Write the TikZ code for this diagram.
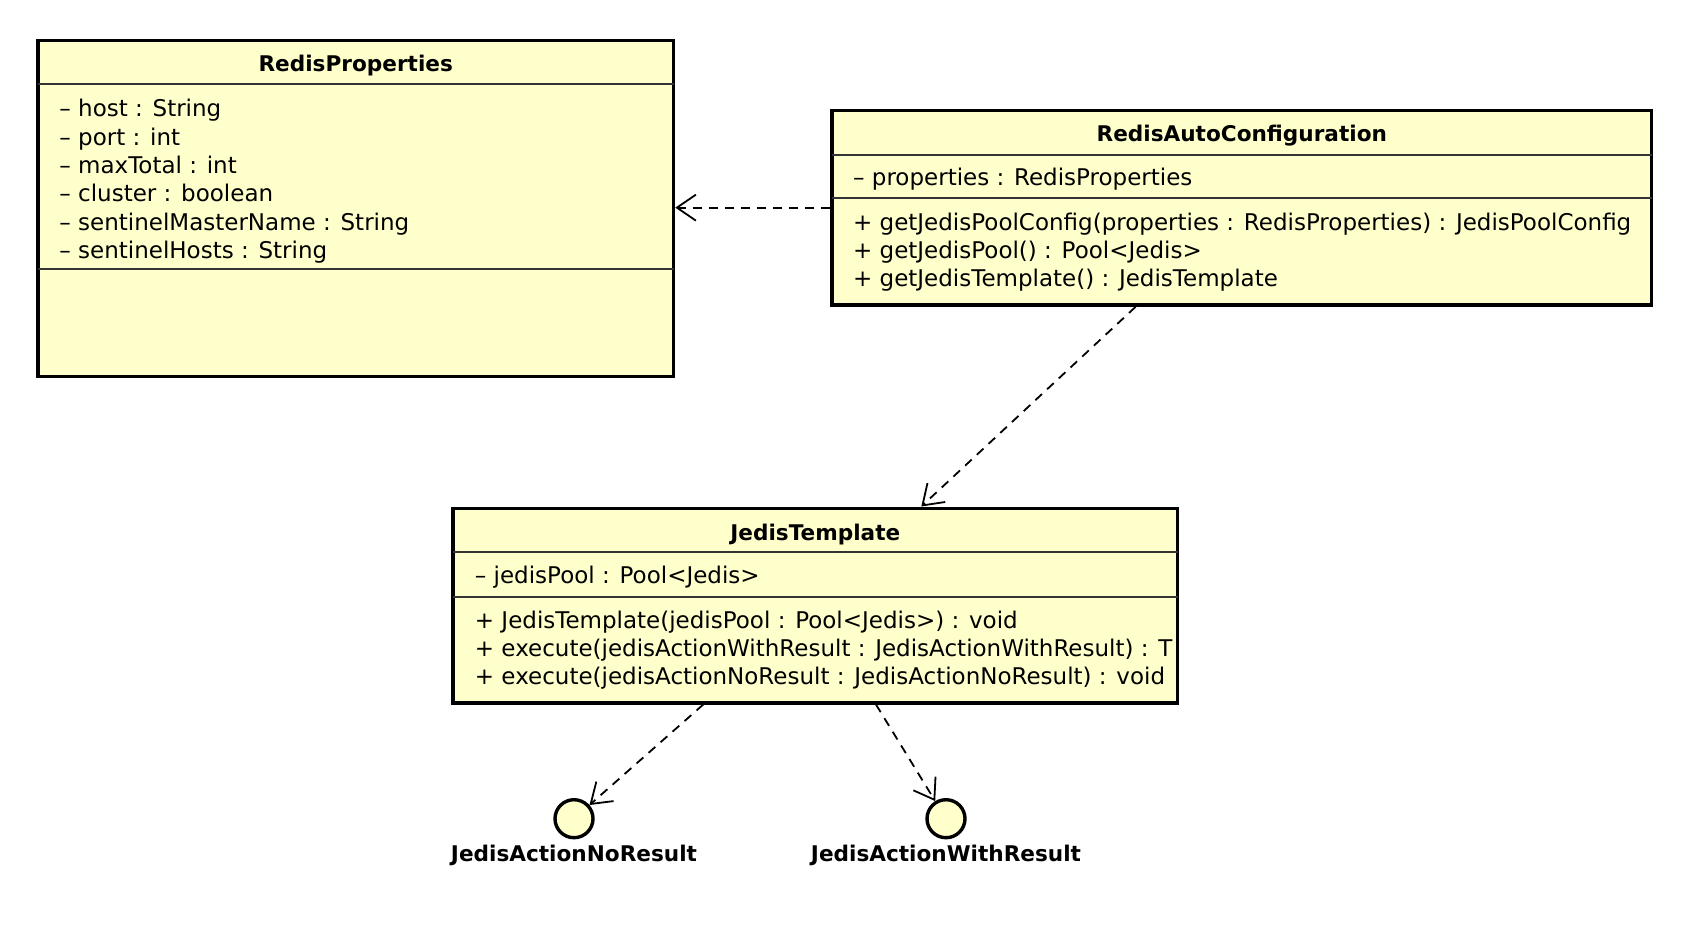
\documentclass[tikz,border=0pt]{standalone}
\usepackage{fontspec}
\setmainfont{DejaVu Sans}
\usetikzlibrary{arrows.meta}
\definecolor{umlfill}{HTML}{FFFFCC}
\begin{document}
\begin{tikzpicture}[x=0.5pt,y=-0.5pt,
  classbox/.style={draw=black, line width=1.8pt, fill=umlfill, rectangle, inner sep=0pt},
  iface/.style={draw=black, line width=1.7pt, fill=umlfill, circle, inner sep=0pt, minimum size=19pt},
  divider/.style={draw=black!80, line width=1pt},
  title/.style={font=\fontsize{10.8pt}{13pt}\selectfont\bfseries, anchor=base, inner sep=0pt},
  member/.style={font=\fontsize{11.5pt}{14pt}\selectfont, anchor=base west, inner sep=0pt},
  dep/.style={draw=black, line width=0.9pt, dash pattern=on 4.5pt off 3.5pt, -{Straight Barb[length=9.5pt,width=13pt,line width=0.9pt]}},
]
\useasboundingbox (0,0) rectangle (1684,942);

% RedisProperties
\node[classbox, minimum width=317.75pt, minimum height=168pt] (rp) at (355.75,208.3) {};
\draw[divider] (38,84) -- (673.5,84);
\draw[divider] (38,269) -- (673.5,269);
\node[title] (rpT) at (355.75,71.7) {RedisProperties};
\node[member] (rpA1) at (59,116.7) {– host : String};
\node[member] (rpA2) at (59,145) {– port : int};
\node[member] (rpA3) at (59,173.3) {– maxTotal : int};
\node[member] (rpA4) at (59,201.7) {– cluster : boolean};
\node[member] (rpA5) at (59,230) {– sentinelMasterName : String};
\node[member] (rpA6) at (59,258.3) {– sentinelHosts : String};

% RedisAutoConfiguration
\node[classbox, minimum width=409.8pt, minimum height=97.35pt] (rac) at (1241.8,207.65) {};
\draw[divider] (832,154.5) -- (1651.6,154.5);
\draw[divider] (832,198.3) -- (1651.6,198.3);
\node[title] (racT) at (1241.8,141.7) {RedisAutoConfiguration};
\node[member] (racA1) at (852.7,185.7) {– properties : RedisProperties};
\node[member] (racM1) at (852.7,230.7) {+ getJedisPoolConfig(properties : RedisProperties) : JedisPoolConfig};
\node[member] (racM2) at (852.7,258.3) {+ getJedisPool() : Pool<Jedis>};
\node[member] (racM3) at (852.7,286) {+ getJedisTemplate() : JedisTemplate};

% JedisTemplate
\node[classbox, minimum width=362.3pt, minimum height=97.2pt] (jt) at (815.3,605.5) {};
\draw[divider] (453,552) -- (1177.6,552);
\draw[divider] (453,596.7) -- (1177.6,596.7);
\node[title] (jtT) at (815.3,540) {JedisTemplate};
\node[member] (jtA1) at (474.5,583.7) {– jedisPool : Pool<Jedis>};
\node[member] (jtM1) at (474.5,628.7) {+ JedisTemplate(jedisPool : Pool<Jedis>) : void};
\node[member] (jtM2) at (474.5,656.7) {+ execute(jedisActionWithResult : JedisActionWithResult) : T};
\node[member] (jtM3) at (474.5,684.3) {+ execute(jedisActionNoResult : JedisActionNoResult) : void};

% Interfaces
\node[iface] (nor) at (574,818.7) {};
\node[iface] (wr) at (946,818.7) {};
\node[title] (norL) at (574,861.7) {JedisActionNoResult};
\node[title] (wrL) at (946,861.7) {JedisActionWithResult};

% Dependencies
\draw[dep] (rac.west) -- (rac.west -| rp.east);
\draw[dep] (rac) -- (jt);
\draw[dep] (jt) -- (nor);
\draw[dep] (jt) -- (wr);
\end{tikzpicture}
\end{document}
